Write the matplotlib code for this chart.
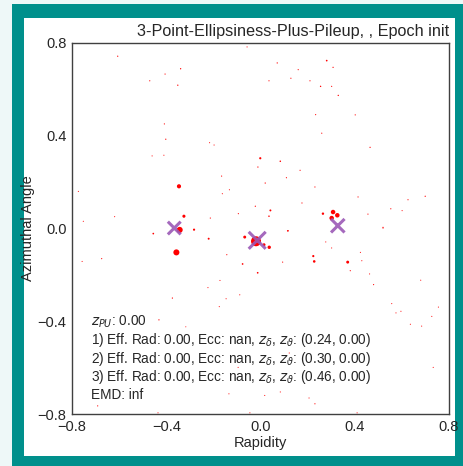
import numpy as np
import matplotlib
matplotlib.use("Agg")
import matplotlib.pyplot as plt
from matplotlib.patches import Rectangle

plt.rcParams['font.family'] = ['Liberation Sans', 'DejaVu Sans']
plt.rcParams['mathtext.fontset'] = 'dejavusans'
plt.rcParams['text.color'] = '#262626'
plt.rcParams['axes.labelcolor'] = '#262626'
plt.rcParams['xtick.color'] = '#262626'
plt.rcParams['ytick.color'] = '#262626'

# particles: rapidity, azimuth, pt (relative)
eta = [-0.019, -0.343, -0.357, -0.346, -0.325, -0.282, -0.220, -0.455, -0.067, 0.015, 0.037,
       0.308, 0.326, 0.302, 0.265, 0.370, 0.228, 0.224, 0.117, -0.076, -0.012, 0.042, 0.036,
       -0.001, 0.084, 0.281,
       -0.606, -0.339, -0.405, -0.470, -0.351, -0.408, -0.402, -0.460, -0.410, -0.773, -0.752,
       -0.619, -0.057, 0.071, 0.160, 0.036, 0.129, 0.210, 0.255, 0.234, 0.260, -0.216, -0.197,
       -0.011, 0.168, -0.165, 0.110, 0.020, -0.132, -0.162, 0.231, 0.176, -0.022, -0.094, -0.213,
       0.115, 0.308, 0.302, 0.330, 0.402, 0.465, 0.414, 0.626, 0.699, 0.553, 0.601, 0.456, 0.520,
       -0.674, -0.757, -0.374, -0.431, -0.317, -0.691, 0.277, -0.143, 0.094, -0.172, -0.223,
       -0.146, -0.088, -0.175, 0.122, -0.095, -0.134, 0.018, 0.084, 0.206, 0.231, 0.381, 0.424,
       0.430, 0.463, 0.480, 0.520, 0.302, 0.680, 0.557, 0.575, 0.596, 0.636, 0.684, 0.727, 0.755,
       0.733, -0.435, -0.045, 0.410]
phi = [-0.055, -0.006, -0.103, 0.182, 0.053, -0.005, -0.044, -0.022, -0.037, -0.070, -0.081,
       0.071, 0.057, 0.045, 0.064, -0.145, -0.142, -0.119, -0.010, -0.153, -0.191, 0.078, 0.053,
       0.303, 0.290, 0.724,
       0.743, 0.689, 0.666, 0.637, 0.618, 0.451, 0.385, 0.313, 0.316, 0.160, 0.031,
       0.051, 0.783, 0.714, 0.685, 0.637, 0.648, 0.637, 0.613, 0.491, 0.411, 0.370, 0.360,
       0.265, 0.251, 0.226, 0.219, 0.196, 0.167, 0.150, 0.179, 0.110, 0.096, 0.064, 0.045,
       -0.010, 0.695, 0.613, 0.574, 0.490, 0.350, 0.136, 0.124, 0.139, 0.085, 0.077, 0.062, 0.005,
       -0.130, -0.142, -0.300, -0.394, -0.424, -0.765, -0.058, -0.113, -0.145, -0.224, -0.255,
       -0.303, -0.286, -0.337, -0.537, -0.599, -0.713, -0.720, -0.705, -0.731, -0.756, -0.182, -0.103,
       -0.139, -0.196, -0.242, 0.002, -0.084, -0.223, -0.324, -0.364, -0.357, -0.413, -0.421, -0.379, -0.339,
       -0.599, -0.795, -0.795, -0.795]
pt = [52, 19, 19, 9, 5, 2.5, 2, 1.5, 4.5, 4.5, 6,
      10.5, 10.5, 10.5, 3, 4.5, 3.5, 2.5, 1.2, 1.5, 1.5, 2, 1.2,
      2.5, 1.2, 1.5,
      0.8, 0.9, 0.7, 0.7, 0.9, 0.7, 0.8, 0.6, 0.6, 0.6, 0.6,
      0.6, 0.6, 0.8, 0.7, 0.7, 0.7, 0.7, 1.0, 0.7, 0.7, 0.6, 0.6,
      0.8, 0.7, 0.7, 0.7, 0.8, 0.6, 0.6, 0.7, 0.7, 0.8, 0.7, 0.7,
      0.9, 0.8, 0.7, 0.9, 0.7, 0.8, 0.7, 0.7, 0.8, 0.7, 0.6, 0.7, 0.7,
      0.7, 0.6, 0.8, 0.8, 0.5, 0.7, 0.6, 0.7, 0.7, 0.6, 0.6,
      0.6, 0.6, 0.6, 0.6, 0.6, 0.6, 0.6, 0.6, 0.6, 0.7, 0.7, 0.6,
      0.6, 0.6, 0.7, 0.7, 0.6, 0.6, 0.6, 0.6, 0.6, 0.6, 0.6, 0.6, 0.6,
      0.6, 0.6, 0.6, 0.6]

# jet axes found by the model
jet_eta = [-0.366, -0.014, 0.328]
jet_phi = [0.002, -0.051, 0.012]
jet_size = [85, 150, 95]

labels = [r"$z_{PU}$: 0.00",
          r"1) Eff. Rad: 0.00, Ecc: nan, $z_\delta$, $z_\vartheta$: (0.24, 0.00)",
          r"2) Eff. Rad: 0.00, Ecc: nan, $z_\delta$, $z_\vartheta$: (0.30, 0.00)",
          r"3) Eff. Rad: 0.00, Ecc: nan, $z_\delta$, $z_\vartheta$: (0.46, 0.00)",
          "EMD: inf"]

fig = plt.figure(figsize=(4.63, 4.66), dpi=100)
fig.patch.set_facecolor('#eef8f8')
fig.add_artist(Rectangle((12 / 463, 0), 451 / 463, 462 / 466, transform=fig.transFigure,
                         facecolor='#00908c', edgecolor='none', zorder=-10))
fig.add_artist(Rectangle((24 / 463, 10 / 466), 431 / 463, 438 / 466, transform=fig.transFigure,
                         facecolor='white', edgecolor='none', zorder=-9))

ax = fig.add_axes([72 / 463, 52 / 466, 377 / 463, 371 / 466])
ax.set_facecolor('none')
ax.scatter(eta, phi, s=pt, color='red', edgecolors='none', zorder=2)
ax.scatter(jet_eta, jet_phi, s=jet_size, marker='x', color='#9b59b6', linewidths=2.2,
           alpha=0.9, zorder=3)

ax.set_xlim(-0.8, 0.8)
ax.set_ylim(-0.8, 0.8)
ax.set_xticks([-0.8, -0.4, 0.0, 0.4, 0.8])
ax.set_yticks([-0.8, -0.4, 0.0, 0.4, 0.8])
ax.tick_params(length=0, labelsize=10.5, pad=4)
for s in ax.spines.values():
    s.set_color('#404040')
    s.set_linewidth(1.0)
ax.set_xlabel("Rapidity", fontsize=10.5, labelpad=2)
ax.set_ylabel("Azimuthal Angle", fontsize=10.5, labelpad=2)
ax.set_title("3-Point-Ellipsiness-Plus-Pileup, , Epoch init", loc='right', fontsize=11.7, pad=5)

for i, line in enumerate(labels[::-1]):
    ax.text(0.05, 0.04 + i * 0.0493, line, transform=ax.transAxes, fontsize=9.8,
            ha='left', va='baseline')

plt.savefig("out.png", dpi=100)
